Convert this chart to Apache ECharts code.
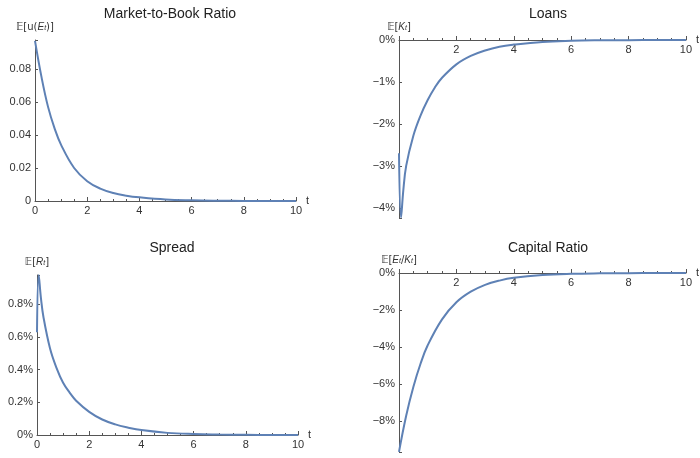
<!DOCTYPE html>
<html>
<head>
<meta charset="utf-8">
<script src="https://cdn.jsdelivr.net/npm/echarts@6/dist/echarts.min.js"></script>
<style>
  html, body { margin: 0; padding: 0; background: #fff; }
  #main { width: 700px; height: 458px; }
</style>
</head>
<body>
<div id="main"></div>
<script>
// values
var tMtb = [0, 0.25, 0.5, 0.75, 1, 1.5, 2, 2.5, 3, 3.5, 4, 5, 6, 7, 8, 9, 10];
var mtbValues = [0.097, 0.075, 0.057, 0.044, 0.034, 0.020, 0.012, 0.0075, 0.0048, 0.0032, 0.0022, 0.0009, 0.0004, 0.00017, 0.00007, 0.00003, 0.00001];

var tLoans = [0, 0.07, 0.15, 0.25, 0.5, 0.75, 1, 1.25, 1.5, 2, 2.5, 3, 3.5, 4, 5, 6, 7, 8, 9, 10];
var loansValues = [-0.027, -0.0423, -0.0358, -0.0300, -0.0228, -0.0180, -0.0143, -0.0113, -0.0090, -0.0058, -0.0038, -0.0025, -0.0016, -0.0011, -0.00045, -0.00018, -0.00007, -0.00003, -0.00001, 0];

var tSpread = [0, 0.065, 0.15, 0.25, 0.5, 0.75, 1, 1.25, 1.5, 2, 2.5, 3, 3.5, 4, 5, 6, 7, 8, 9, 10];
var spreadValues = [0.0063, 0.0098, 0.0084, 0.0072, 0.0053, 0.0041, 0.0032, 0.0026, 0.0021, 0.00142, 0.00095, 0.00065, 0.00045, 0.0003, 0.00013, 0.00006, 0.00003, 0.00001, 0, 0];

var tCap = [0, 0.25, 0.5, 0.75, 1, 1.5, 2, 2.5, 3, 3.5, 4, 5, 6, 7, 8, 9, 10];
var capValues = [-0.0965, -0.077, -0.0615, -0.049, -0.039, -0.025, -0.0158, -0.0101, -0.0064, -0.0041, -0.0026, -0.0011, -0.00043, -0.00017, -0.00007, -0.00003, -0.00001];

var lineColor = '#5e81b5';
var axisColor = '#555';
var labelColor = '#333';
var minus = '\u2212';

function pairs(ts, vs) {
  return ts.map(function (t, i) { return [t, vs[i]]; });
}

function near(v, step) {
  return Math.abs(v / step - Math.round(v / step)) < 1e-6;
}

function pctLabel(step) {
  return function (v) {
    if (!near(v, step)) return '';
    var p = Math.round(v * 1000) / 10;
    if (p === 0) return '0%';
    return (p < 0 ? minus : '') + Math.abs(p) + '%';
  };
}

// top = x axis sits on the top edge (negative panels), labels hang below it
function makeX(idx, top) {
  return {
    type: 'value',
    gridIndex: idx,
    position: top ? 'top' : 'bottom',
    min: 0,
    max: 10,
    interval: 2,
    name: 't',
    nameGap: 8,
    nameTextStyle: { color: labelColor, fontSize: 11, fontFamily: 'Liberation Sans', verticalAlign: 'middle' },
    axisLine: { onZero: false, lineStyle: { color: axisColor, width: 1 } },
    axisTick: { inside: !top, length: 4, lineStyle: { color: axisColor } },
    minorTick: { show: true, splitNumber: 4, length: 2, lineStyle: { color: axisColor } },
    axisLabel: {
      inside: top,
      color: labelColor, fontSize: 11, fontFamily: 'Liberation Sans', margin: 4,
      formatter: function (v) { return (v === 0 && top) ? '' : String(v); }
    },
    splitLine: { show: false }
  };
}

function makeY(idx, min, max, step, fmt, nameRich) {
  return {
    type: 'value',
    gridIndex: idx,
    min: min,
    max: max,
    minInterval: step,
    maxInterval: step,
    name: nameRich,
    nameLocation: 'end',
    nameGap: 8,
    nameTextStyle: {
      color: labelColor, fontSize: 10, fontFamily: 'DejaVu Sans',
      rich: {
        i: { fontSize: 10, fontStyle: 'italic', color: labelColor, fontFamily: 'Liberation Sans' },
        s: { fontSize: 7, fontStyle: 'italic', color: labelColor, verticalAlign: 'bottom', fontFamily: 'Liberation Sans' }
      }
    },
    axisLine: { show: true, onZero: false, lineStyle: { color: axisColor, width: 1 } },
    axisTick: { inside: true, length: 3, lineStyle: { color: axisColor } },
    axisLabel: { color: labelColor, fontSize: 11, fontFamily: 'Liberation Sans', margin: 4, formatter: fmt },
    splitLine: { show: false }
  };
}

var chart = echarts.init(document.getElementById('main'));

var titleStyle = { color: '#222', fontSize: 14, fontWeight: 'normal', fontFamily: 'Liberation Sans' };

var option = {
  animation: false,
  backgroundColor: '#fff',
  title: [
    { text: 'Market-to-Book Ratio', left: 165, top: 2, textAlign: 'center', textStyle: titleStyle },
    { text: 'Loans', left: 543, top: 2, textAlign: 'center', textStyle: titleStyle },
    { text: 'Spread', left: 167, top: 236, textAlign: 'center', textStyle: titleStyle },
    { text: 'Capital Ratio', left: 543, top: 236, textAlign: 'center', textStyle: titleStyle }
  ],
  grid: [
    { left: 35, top: 40, width: 261, height: 161 },
    { left: 399, top: 40, width: 289, height: 178 },
    { left: 37, top: 275, width: 261, height: 160 },
    { left: 399, top: 273, width: 289, height: 179 }
  ],
  xAxis: [
    makeX(0, false),
    makeX(1, true),
    makeX(2, false),
    makeX(3, true)
  ],
  yAxis: [
    makeY(0, 0, 0.0975, 0.02, function (v) {
      if (!near(v, 0.02)) return '';
      return v === 0 ? '0' : v.toFixed(2);
    }, '\uD835\uDD3C[u({i|E}{s|t})]'),
    makeY(1, -0.0424, 0, 0.01, pctLabel(0.01), '\uD835\uDD3C[{i|K}{s|t}]'),
    makeY(2, 0, 0.0098, 0.002, pctLabel(0.002), '\uD835\uDD3C[{i|R}{s|t}]'),
    makeY(3, -0.0966, 0, 0.02, pctLabel(0.02), '\uD835\uDD3C[{i|E}{s|t}/{i|K}{s|t}]')
  ],
  series: [
    { type: 'line', xAxisIndex: 0, yAxisIndex: 0, data: pairs(tMtb, mtbValues) },
    { type: 'line', xAxisIndex: 1, yAxisIndex: 1, data: pairs(tLoans, loansValues) },
    { type: 'line', xAxisIndex: 2, yAxisIndex: 2, data: pairs(tSpread, spreadValues) },
    { type: 'line', xAxisIndex: 3, yAxisIndex: 3, data: pairs(tCap, capValues) }
  ].map(function (s) {
    s.smooth = 0.4;
    s.showSymbol = false;
    s.symbol = 'none';
    s.clip = false;
    s.lineStyle = { color: lineColor, width: 2 };
    return s;
  })
};

chart.setOption(option);
</script>
</body>
</html>
